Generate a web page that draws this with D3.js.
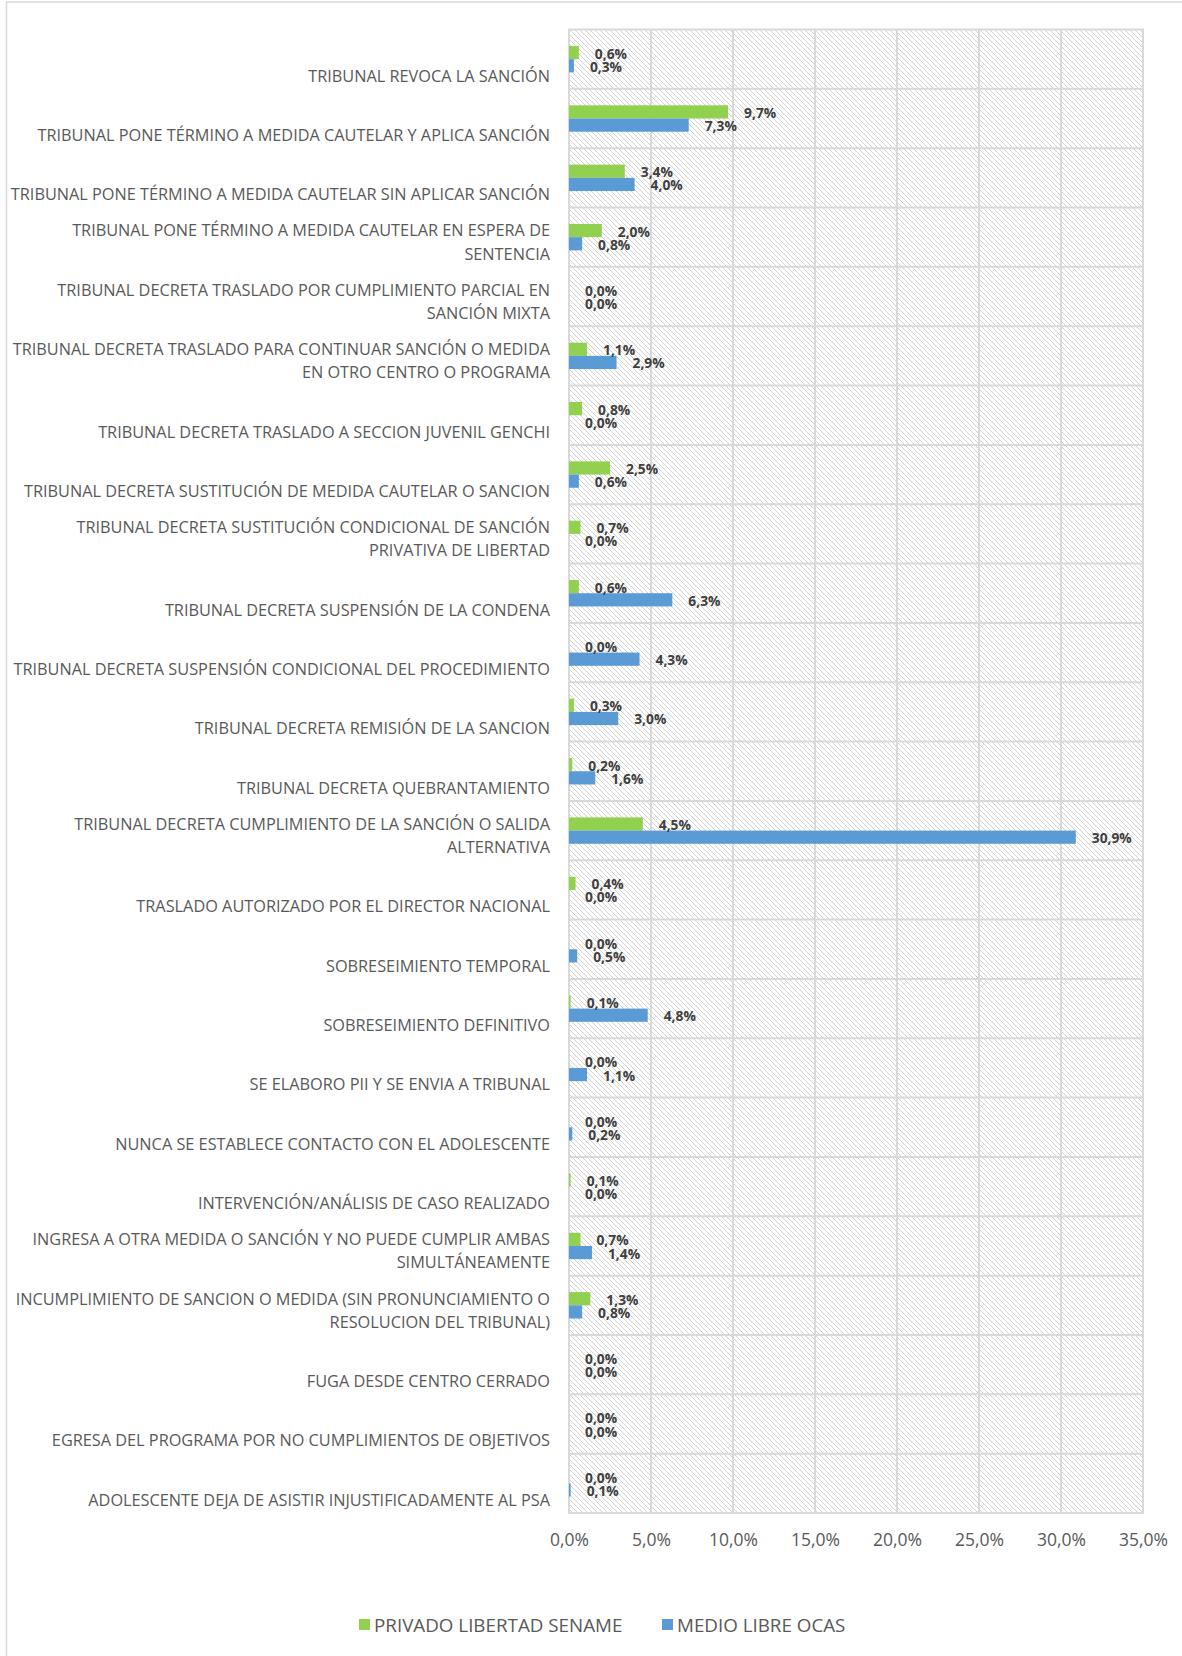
<!DOCTYPE html>
<html>
<head>
<meta charset="utf-8">
<script src="https://cdn.jsdelivr.net/npm/d3@7"></script>
<style>
  html, body { margin: 0; padding: 0; background: #fff; }
  svg { display: block; }
</style>
</head>
<body>
<div id="chart"></div>
<script>
const categories = [
  "TRIBUNAL REVOCA LA SANCIÓN",
  "TRIBUNAL PONE TÉRMINO A MEDIDA CAUTELAR Y APLICA SANCIÓN",
  "TRIBUNAL PONE TÉRMINO A MEDIDA CAUTELAR SIN APLICAR SANCIÓN",
  "TRIBUNAL PONE TÉRMINO A MEDIDA CAUTELAR EN ESPERA DE SENTENCIA",
  "TRIBUNAL DECRETA TRASLADO POR CUMPLIMIENTO PARCIAL EN SANCIÓN MIXTA",
  "TRIBUNAL DECRETA TRASLADO PARA CONTINUAR SANCIÓN O MEDIDA EN OTRO CENTRO O PROGRAMA",
  "TRIBUNAL DECRETA TRASLADO A SECCION JUVENIL GENCHI",
  "TRIBUNAL DECRETA SUSTITUCIÓN DE MEDIDA CAUTELAR O SANCION",
  "TRIBUNAL DECRETA SUSTITUCIÓN CONDICIONAL DE SANCIÓN PRIVATIVA DE LIBERTAD",
  "TRIBUNAL DECRETA SUSPENSIÓN DE LA CONDENA",
  "TRIBUNAL DECRETA SUSPENSIÓN CONDICIONAL DEL PROCEDIMIENTO",
  "TRIBUNAL DECRETA REMISIÓN DE LA SANCION",
  "TRIBUNAL DECRETA QUEBRANTAMIENTO",
  "TRIBUNAL DECRETA CUMPLIMIENTO DE LA SANCIÓN O SALIDA ALTERNATIVA",
  "TRASLADO AUTORIZADO POR EL DIRECTOR NACIONAL",
  "SOBRESEIMIENTO TEMPORAL",
  "SOBRESEIMIENTO DEFINITIVO",
  "SE ELABORO PII Y SE ENVIA A TRIBUNAL",
  "NUNCA SE ESTABLECE CONTACTO CON EL ADOLESCENTE",
  "INTERVENCIÓN/ANÁLISIS DE CASO REALIZADO",
  "INGRESA A OTRA MEDIDA O SANCIÓN Y NO PUEDE CUMPLIR AMBAS SIMULTÁNEAMENTE",
  "INCUMPLIMIENTO DE SANCION O MEDIDA (SIN PRONUNCIAMIENTO O RESOLUCION DEL TRIBUNAL)",
  "FUGA DESDE CENTRO CERRADO",
  "EGRESA DEL PROGRAMA POR NO CUMPLIMIENTOS DE OBJETIVOS",
  "ADOLESCENTE DEJA DE ASISTIR INJUSTIFICADAMENTE AL PSA"
];
const seriesNames = ["PRIVADO LIBERTAD SENAME", "MEDIO LIBRE OCAS"];
const privadoSename = [0.6, 9.7, 3.4, 2.0, 0.0, 1.1, 0.8, 2.5, 0.7, 0.6, 0.0, 0.3, 0.2, 4.5, 0.4, 0.0, 0.1, 0.0, 0.0, 0.1, 0.7, 1.3, 0.0, 0.0, 0.0];
const medioOcas    = [0.3, 7.3, 4.0, 0.8, 0.0, 2.9, 0.0, 0.6, 0.0, 6.3, 4.3, 3.0, 1.6, 30.9, 0.0, 0.5, 4.8, 1.1, 0.2, 0.0, 1.4, 0.8, 0.0, 0.0, 0.1];
const xTicks = [0, 5, 10, 15, 20, 25, 30, 35];

(function () {
const W = 1182, H = 1656;
const pLeft = 569, pRight = 1143, pTop = 29.5, pBottom = 1513;
const colors = ["#92D050", "#5B9BD5"];
const FONT = "'Open Sans', sans-serif";

const svg = d3.select("#chart").append("svg").attr("width", W).attr("height", H);

// hatch pattern (light downward diagonal)
const defs = svg.append("defs");
const P = 5;
const pat = defs.append("pattern").attr("id", "hatch")
  .attr("patternUnits", "userSpaceOnUse").attr("width", P).attr("height", P);
pat.append("rect").attr("width", P).attr("height", P).attr("fill", "#fff");
d3.range(P).forEach(i => pat.append("rect").attr("x", i).attr("y", i).attr("width", 1).attr("height", 1).attr("fill", "#D2D2D2"));

// outer border
svg.append("rect").attr("x", 6.5).attr("y", 2).attr("width", W + 20).attr("height", H + 20)
  .attr("fill", "none").attr("stroke", "#D9D9D9").attr("stroke-width", 1.5);

const x = d3.scaleLinear().domain([0, 35]).range([pLeft, pRight]);
const y = d3.scaleBand().domain(categories).range([pTop, pBottom]).padding(0);
const groupH = 26.4;
const ySub = d3.scaleBand().domain([0, 1]).range([0, groupH]).padding(0);

// plot background
svg.append("rect").attr("x", pLeft).attr("y", pTop).attr("width", pRight - pLeft).attr("height", pBottom - pTop)
  .attr("fill", "url(#hatch)");

// gridlines
const grid = svg.append("g").attr("stroke", "#D9D9D9").attr("stroke-width", 2);
xTicks.forEach(t => grid.append("line").attr("x1", x(t)).attr("x2", x(t)).attr("y1", pTop).attr("y2", pBottom));
categories.forEach(c => grid.append("line").attr("x1", pLeft - 1).attr("x2", pRight + 1).attr("y1", y(c)).attr("y2", y(c)));
grid.append("line").attr("x1", pLeft - 1).attr("x2", pRight + 1).attr("y1", pBottom).attr("y2", pBottom);

// bars
const series = [privadoSename, medioOcas];
const barsG = svg.append("g");
series.forEach((vals, si) => {
  barsG.selectAll(null).data(categories).enter().append("rect")
    .attr("x", x(0))
    .attr("y", (c) => y(c) + y.bandwidth() / 2 - groupH / 2 + ySub(si))
    .attr("width", (c, i) => x(vals[i]) - x(0))
    .attr("height", ySub.bandwidth())
    .attr("fill", colors[si]);
});

// data labels
const fmt = v => v.toFixed(1).replace(".", ",") + "%";
series.forEach((vals, si) => {
  svg.append("g").selectAll(null).data(categories).enter().append("text")
    .attr("x", (c, i) => x(vals[i]) + 16)
    .attr("y", (c) => y(c) + y.bandwidth() / 2 - groupH / 2 + ySub(si) + ySub.bandwidth() / 2 + 1)
    .attr("dy", "0.36em")
    .attr("font-family", FONT).attr("font-weight", "bold").attr("font-size", 13.8)
    .attr("fill", "#404040")
    .text((c, i) => fmt(vals[i]));
});

// category labels with wrapping
const labelX = 550, maxW = 547, catFont = 16.3, lineH = 23.2;
const catG = svg.append("g").attr("font-family", FONT).attr("font-size", catFont).attr("fill", "#595959").attr("text-anchor", "end");
const measurer = svg.append("text").attr("font-family", FONT).attr("font-size", catFont).attr("visibility", "hidden");
function wrap(str) {
  const words = str.split(" ");
  const lines = [];
  let cur = "";
  words.forEach(w => {
    const test = cur ? cur + " " + w : w;
    measurer.text(test);
    if (measurer.node().getComputedTextLength() > maxW && cur) { lines.push(cur); cur = w; }
    else cur = test;
  });
  if (cur) lines.push(cur);
  return lines;
}
categories.forEach(c => {
  const lines = wrap(c);
  const base = y(c) + y.bandwidth() / 2 + 16.6;
  lines.forEach((ln, k) => {
    catG.append("text").attr("x", labelX)
      .attr("y", base - (lines.length - 1 - k) * lineH)
      .attr("dy", "0.36em")
      .text(ln);
  });
});
measurer.remove();

// x axis tick labels
const xAxis = d3.axisBottom(x).tickValues(xTicks).tickSize(0).tickPadding(0)
  .tickFormat(d => d.toFixed(1).replace(".", ",") + "%");
const ax = svg.append("g").attr("transform", `translate(0, ${1540})`).call(xAxis);
ax.select(".domain").remove();
ax.selectAll("text").attr("font-family", FONT).attr("font-size", 17.5).attr("fill", "#595959").attr("dy", "0.36em").attr("y", 0);

// legend
const legend = svg.append("g").attr("font-family", FONT).attr("font-size", 18.8).attr("fill", "#595959");
const legX = [359, 662];
seriesNames.forEach((n, i) => {
  legend.append("rect").attr("x", legX[i]).attr("y", 1619).attr("width", 11).attr("height", 11).attr("fill", colors[i]);
  legend.append("text").attr("x", legX[i] + 15).attr("y", 1625).attr("dy", "0.36em").text(n);
});
})();
</script>
</body>
</html>
